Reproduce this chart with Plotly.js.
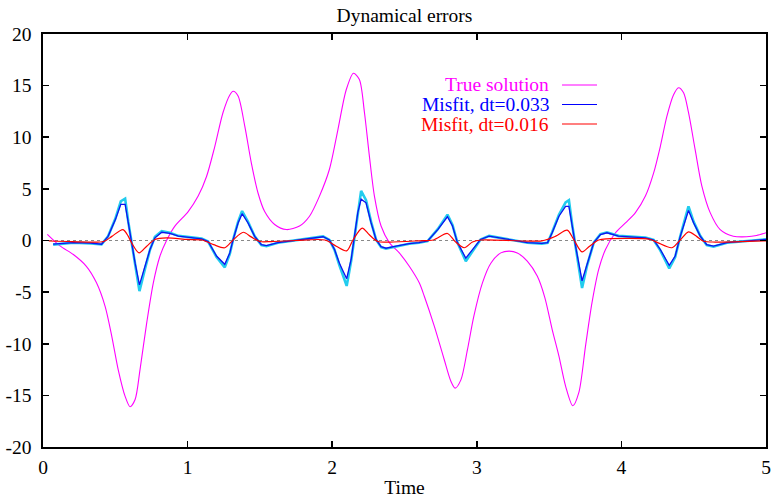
<!DOCTYPE html>
<html>
<head>
<meta charset="utf-8">
<script src="https://cdn.plot.ly/plotly-3.0.1.min.js"></script>
<style>html,body{margin:0;padding:0;background:#fff;}#chart{width:771px;height:498px;}</style>
</head>
<body>
<div id="chart"></div>
<script>
// True solution
const trueT = [0.03,0.12,0.21,0.30,0.37,0.43,0.476,0.52,0.568,0.602,0.637,0.671,0.717,0.763,0.809,0.856,0.912,1.004,1.073,1.131,1.188,1.245,1.292,1.315,1.349,1.395,1.441,1.487,1.533,1.602,1.683,1.774,1.843,1.912,1.981,2.039,2.097,2.147,2.188,2.223,2.257,2.292,2.338,2.395,2.464,2.533,2.602,2.637,2.706,2.774,2.82,2.85,2.89,2.935,2.98,3.039,3.097,3.166,3.223,3.28,3.349,3.418,3.47,3.521,3.568,3.614,3.664,3.706,3.752,3.797,3.843,3.89,3.959,4.028,4.097,4.166,4.223,4.269,4.314,4.36,4.395,4.43,4.464,4.51,4.556,4.614,4.683,4.774,4.866,4.935,5.0];
const trueV = [0.6,-0.55,-1.36,-2.5,-4.1,-6.4,-9.3,-12.5,-15.1,-16.1,-15.4,-12.5,-8.0,-4.1,-1.5,0.05,1.4,2.8,4.3,6.2,9.1,12.4,14.1,14.45,14.0,11.1,7.5,4.6,2.8,1.55,1.06,1.4,2.35,4.3,6.9,10.7,14.6,16.2,15.6,12.4,8.2,4.3,1.4,-0.2,-1.2,-2.5,-4.1,-5.4,-8.3,-11.5,-13.6,-14.3,-13.5,-10.6,-7.3,-4.1,-2.2,-1.2,-1.03,-1.2,-2.0,-3.45,-5.5,-8.6,-11.2,-14.1,-16.0,-14.7,-10.2,-6.0,-2.8,-0.87,0.75,1.7,2.7,4.3,6.55,9.1,12.0,14.1,14.8,14.3,12.4,8.8,5.3,2.7,1.06,0.42,0.36,0.48,0.75];

// Misfit dt=0.033 (blue) and companion (cyan)
const misT = [0.07,0.21,0.33,0.405,0.45,0.50,0.538,0.568,0.59,0.612,0.637,0.667,0.706,0.74,0.774,0.821,0.878,0.936,1.097,1.142,1.20,1.257,1.292,1.315,1.349,1.377,1.418,1.464,1.51,1.545,1.625,1.74,1.843,1.937,1.981,2.016,2.05,2.10,2.131,2.154,2.177,2.20,2.234,2.269,2.303,2.338,2.372,2.441,2.533,2.60,2.66,2.73,2.797,2.832,2.866,2.924,2.97,3.026,3.085,3.21,3.35,3.45,3.49,3.521,3.568,3.614,3.637,3.66,3.683,3.728,3.763,3.809,3.855,3.90,3.98,4.166,4.223,4.269,4.331,4.372,4.407,4.441,4.464,4.50,4.545,4.59,4.637,4.73,4.866,5.0];
const blueV = [-0.35,-0.2,-0.26,-0.36,0.4,2.0,3.5,3.5,1.7,-0.2,-2.2,-4.3,-2.5,-0.87,0.26,0.8,0.7,0.42,0.16,-0.1,-1.5,-2.3,-1.2,0.1,1.7,2.6,1.7,0.4,-0.4,-0.5,-0.2,0.0,0.16,0.36,0.05,-0.87,-2.2,-3.7,-1.84,0.42,2.7,4.0,3.65,1.7,0.1,-0.6,-0.75,-0.55,-0.3,-0.2,-0.05,1.06,2.3,1.4,-0.2,-1.7,-0.9,0.1,0.42,0.1,-0.2,-0.28,-0.2,0.75,2.35,3.3,3.3,1.4,-0.55,-3.9,-2.2,-0.2,0.58,0.75,0.42,0.26,0.05,-0.87,-2.4,-1.5,0.4,2.0,2.9,1.7,0.42,-0.4,-0.55,-0.2,-0.07,0.1];
const cyanV = [-0.4,-0.22,-0.28,-0.38,0.4,2.1,3.8,4.06,1.8,-0.2,-2.3,-4.9,-2.7,-0.9,0.35,0.9,0.75,0.45,0.18,-0.1,-1.6,-2.6,-1.3,0.1,1.8,2.85,1.8,0.4,-0.45,-0.55,-0.22,0.0,0.18,0.4,0.05,-0.9,-2.4,-4.4,-2.0,0.42,2.9,4.8,3.9,1.8,0.1,-0.65,-0.8,-0.6,-0.32,-0.22,-0.05,1.1,2.5,1.5,-0.2,-2.0,-1.0,0.1,0.45,0.1,-0.22,-0.3,-0.22,0.8,2.5,3.7,3.9,1.5,-0.6,-4.6,-2.4,-0.2,0.62,0.8,0.45,0.28,0.05,-0.95,-2.7,-1.6,0.4,2.1,3.3,1.8,0.45,-0.45,-0.6,-0.22,-0.08,0.12];

// Misfit dt=0.016 (red)
const redT = [0.04,0.20,0.42,0.476,0.553,0.59,0.612,0.664,0.717,0.774,0.855,1.0,1.10,1.18,1.257,1.315,1.385,1.44,1.50,1.58,1.75,1.95,2.028,2.10,2.142,2.207,2.257,2.315,2.40,2.60,2.70,2.797,2.85,2.913,2.97,3.03,3.45,3.546,3.625,3.67,3.728,3.78,3.843,3.90,4.20,4.25,4.349,4.407,4.464,4.52,4.568,4.65,5.0];
const redV = [-0.05,-0.1,-0.1,0.4,1.06,0.4,-0.2,-1.2,-0.55,0.1,0.26,0.1,0.05,-0.4,-0.7,0.05,0.8,0.35,-0.1,-0.1,0.0,0.05,-0.55,-1.0,0.0,1.2,0.55,-0.1,-0.15,-0.03,0.05,0.68,-0.1,-0.7,-0.15,0.05,-0.03,0.42,1.0,0.1,-1.1,-0.55,0.05,0.16,0.1,-0.2,-0.7,0.05,0.84,0.4,-0.07,-0.15,-0.03];

// Zero reference
const zeroT = [0, 5];
const zeroV = [0, 0];

const yTickVals = [-20,-15,-10,-5,0,5,10,15,20];
const yTickText = ["-20","-15","-10","-5","0","5","10","15","20"];
const xTickVals = [0,1,2,3,4,5];
const xTickText = ["0","1","2","3","4","5"];

const legendNames = ["True solution","Misfit, dt=0.033","Misfit, dt=0.016"];
const legendColors = ["#ff00ff","#0000ff","#ff0000"];

const FONT = 'Liberation Serif';
const FS = 19.5;

const traces = [
  {x: zeroT, y: zeroV, mode:'lines', line:{color:'#888888', width:1.2, dash:'dot'}, showlegend:false, hoverinfo:'skip'},
  {x: trueT, y: trueV, mode:'lines', line:{color:'#ff00ff', width:1.1, shape:'spline', smoothing:0.8}, name:legendNames[0], showlegend:false},
  {x: misT, y: cyanV, mode:'lines', line:{color:'#22ccee', width:2.6}, showlegend:false},
  {x: misT, y: blueV, mode:'lines', line:{color:'#1010f0', width:1.3}, name:legendNames[1], showlegend:false},
  {x: redT, y: redV, mode:'lines', line:{color:'#ff0000', width:1.2, shape:'spline', smoothing:0.8}, name:legendNames[2], showlegend:false}
];

const L = 43, R = 5, T = 34, B = 51, W = 771, H = 498;
const pw = W - L - R, ph = H - T - B;
const px = v => (v - L) / pw;
const py = v => (H - B - v) / ph;

const annotations = [];
const shapes = [];
const rowY = [85, 104.5, 124];
for (let i = 0; i < legendNames.length; i++) {
  annotations.push({xref:'paper', yref:'paper', x:px(551), y:py(rowY[i]), xanchor:'right', yanchor:'middle',
    text:legendNames[i], showarrow:false, font:{family:FONT, size:FS, color:legendColors[i]}});
  shapes.push({type:'line', xref:'paper', yref:'paper', x0:px(562), x1:px(597), y0:py(rowY[i]), y1:py(rowY[i]),
    line:{color:legendColors[i], width:1.2}});
}

const axisCommon = {showline:true, mirror:'ticks', linecolor:'#000', linewidth:1.6, ticks:'inside', ticklen:6, tickwidth:1.6, tickcolor:'#000',
  showgrid:false, zeroline:false, tickfont:{family:FONT, size:FS, color:'#000'}};

const layout = {
  width: W, height: H,
  margin:{l:L, r:R, t:T, b:B, pad:0},
  paper_bgcolor:'#fff', plot_bgcolor:'#fff',
  font:{family:FONT, color:'#000'},
  title:{text:'Dynamical errors', font:{family:FONT, size:FS, color:'#000'}, xref:'paper', x:0.5, xanchor:'center', y:1-15/H, yanchor:'middle'},
  xaxis: Object.assign({}, axisCommon, {range:[0,5], tickmode:'array', tickvals:xTickVals, ticktext:xTickText, ticklabelstandoff:2,
    title:{text:'Time', font:{family:FONT, size:FS, color:'#000'}, standoff:4}}),
  yaxis: Object.assign({}, axisCommon, {range:[-20,20], tickmode:'array', tickvals:yTickVals, ticktext:yTickText, ticklabelstandoff:6}),
  showlegend:false,
  annotations: annotations,
  shapes: shapes
};

Plotly.newPlot('chart', traces, layout, {displayModeBar:false, staticPlot:true});
</script>
</body>
</html>
